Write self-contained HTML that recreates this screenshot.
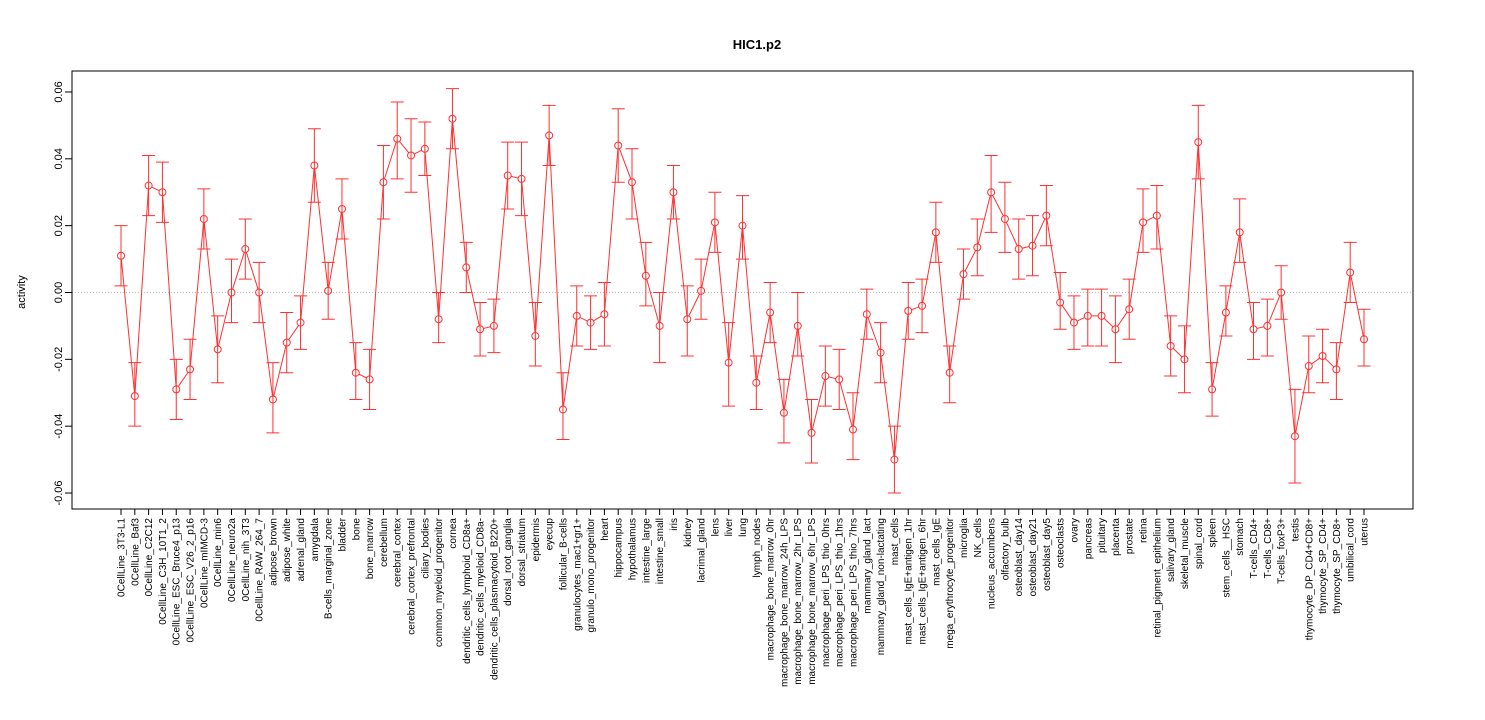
<!DOCTYPE html>
<html><head><meta charset="utf-8"><style>
html,body{margin:0;padding:0;background:#fff;}
svg{display:block;font-family:"Liberation Sans",sans-serif;}
</style></head><body>
<svg id="chart" width="1485" height="720" viewBox="0 0 1485 720">
<text x="757" y="49" text-anchor="middle" font-size="13" font-weight="bold">HIC1.p2</text>
<text transform="translate(25,292) rotate(-90)" text-anchor="middle" font-size="11">activity</text>
<rect x="72" y="71" width="1341" height="438" fill="none" stroke="#000" stroke-width="1"/>
<g id="g"></g>
</svg>
<script>
const categories=["0CellLine_3T3-L1","0CellLine_Baf3","0CellLine_C2C12","0CellLine_C3H_10T1_2","0CellLine_ESC_Bruce4_p13","0CellLine_ESC_V26_2_p16","0CellLine_mIMCD-3","0CellLine_min6","0CellLine_neuro2a","0CellLine_nih_3T3","0CellLine_RAW_264_7","adipose_brown","adipose_white","adrenal_gland","amygdala","B-cells_marginal_zone","bladder","bone","bone_marrow","cerebellum","cerebral_cortex","cerebral_cortex_prefrontal","ciliary_bodies","common_myeloid_progenitor","cornea","dendritic_cells_lymphoid_CD8a+","dendritic_cells_myeloid_CD8a-","dendritic_cells_plasmacytoid_B220+","dorsal_root_ganglia","dorsal_striatum","epidermis","eyecup","follicular_B-cells","granulocytes_mac1+gr1+","granulo_mono_progenitor","heart","hippocampus","hypothalamus","intestine_large","intestine_small","iris","kidney","lacrimal_gland","lens","liver","lung","lymph_nodes","macrophage_bone_marrow_0hr","macrophage_bone_marrow_24h_LPS","macrophage_bone_marrow_2hr_LPS","macrophage_bone_marrow_6hr_LPS","macrophage_peri_LPS_thio_0hrs","macrophage_peri_LPS_thio_1hrs","macrophage_peri_LPS_thio_7hrs","mammary_gland_lact","mammary_gland_non-lactating","mast_cells","mast_cells_IgE+antigen_1hr","mast_cells_IgE+antigen_6hr","mast_cells_IgE","mega_erythrocyte_progenitor","microglia","NK_cells","nucleus_accumbens","olfactory_bulb","osteoblast_day14","osteoblast_day21","osteoblast_day5","osteoclasts","ovary","pancreas","pituitary","placenta","prostate","retina","retinal_pigment_epithelium","salivary_gland","skeletal_muscle","spinal_cord","spleen","stem_cells__HSC","stomach","T-cells_CD4+","T-cells_CD8+","T-cells_foxP3+","testis","thymocyte_DP_CD4+CD8+","thymocyte_SP_CD4+","thymocyte_SP_CD8+","umbilical_cord","uterus"];
const values=[0.011,-0.031,0.032,0.030,-0.029,-0.023,0.022,-0.017,0.000,0.013,0.000,-0.032,-0.015,-0.009,0.038,0.0005,0.025,-0.024,-0.026,0.033,0.046,0.041,0.043,-0.008,0.052,0.0075,-0.011,-0.010,0.035,0.034,-0.013,0.047,-0.035,-0.007,-0.009,-0.0065,0.044,0.033,0.005,-0.010,0.030,-0.008,0.0005,0.021,-0.021,0.020,-0.027,-0.006,-0.036,-0.010,-0.042,-0.025,-0.026,-0.041,-0.0065,-0.018,-0.050,-0.0055,-0.004,0.018,-0.024,0.0055,0.0135,0.030,0.022,0.013,0.014,0.023,-0.003,-0.009,-0.007,-0.007,-0.011,-0.005,0.021,0.023,-0.016,-0.020,0.045,-0.029,-0.006,0.018,-0.011,-0.010,0.000,-0.043,-0.022,-0.019,-0.023,0.006,-0.014];
const upper=[0.020,-0.021,0.041,0.039,-0.020,-0.014,0.031,-0.007,0.010,0.022,0.009,-0.021,-0.006,-0.001,0.049,0.009,0.034,-0.015,-0.017,0.044,0.057,0.052,0.051,0.000,0.061,0.015,-0.003,-0.002,0.045,0.045,-0.003,0.056,-0.024,0.002,-0.001,0.003,0.055,0.043,0.015,0.000,0.038,0.002,0.010,0.030,-0.009,0.029,-0.019,0.003,-0.026,0.000,-0.032,-0.016,-0.017,-0.030,0.001,-0.009,-0.040,0.003,0.004,0.027,-0.016,0.013,0.022,0.041,0.033,0.022,0.023,0.032,0.006,-0.001,0.001,0.001,-0.001,0.004,0.031,0.032,-0.007,-0.010,0.056,-0.021,0.002,0.028,-0.003,-0.002,0.008,-0.029,-0.013,-0.011,-0.015,0.015,-0.005];
const lower=[0.002,-0.040,0.023,0.021,-0.038,-0.032,0.013,-0.027,-0.009,0.004,-0.009,-0.042,-0.024,-0.017,0.027,-0.008,0.016,-0.032,-0.035,0.022,0.034,0.030,0.035,-0.015,0.043,0.000,-0.019,-0.018,0.025,0.023,-0.022,0.038,-0.044,-0.016,-0.017,-0.016,0.033,0.022,-0.004,-0.021,0.022,-0.019,-0.008,0.012,-0.034,0.010,-0.035,-0.015,-0.045,-0.019,-0.051,-0.034,-0.035,-0.050,-0.014,-0.027,-0.060,-0.014,-0.012,0.009,-0.033,-0.002,0.005,0.018,0.012,0.004,0.005,0.014,-0.011,-0.017,-0.016,-0.016,-0.021,-0.014,0.012,0.013,-0.025,-0.030,0.034,-0.037,-0.013,0.009,-0.020,-0.019,-0.008,-0.057,-0.030,-0.027,-0.032,-0.003,-0.022];
const yTicks=[-0.06,-0.04,-0.02,0.00,0.02,0.04,0.06];
const yTickLabels=["-0.06","-0.04","-0.02","0.00","0.02","0.04","0.06"];

const X0=121, DX=(1364-121)/90;
function xs(i){return X0+i*DX;}
function ys(v){return 292.5-v*3342;}
const NS="http://www.w3.org/2000/svg";
const g=document.getElementById('g');
function mk(t,a){const e=document.createElementNS(NS,t);for(const k in a)e.setAttribute(k,a[k]);g.appendChild(e);return e;}
const red="#ff3030";
// zero line
let zl=mk('line',{x1:72,x2:1413,y1:ys(0),y2:ys(0),stroke:"#bbb","stroke-dasharray":"1,2"});


// y axis
let ya=mk('line',{x1:72,x2:72,y1:ys(yTicks[0]),y2:ys(yTicks[yTicks.length-1]),stroke:"#000"});


yTicks.forEach((t,i)=>{
  const y=ys(t);
  let tk=mk('line',{x1:65,x2:72,y1:y,y2:y,stroke:"#000"});
  
  
  let tx=mk('text',{transform:`translate(62,${y}) rotate(-90)`,"text-anchor":"middle","font-size":"11"});
  tx.textContent=yTickLabels[i];
  
  
});
// x axis
let xa=mk('line',{x1:xs(0),x2:xs(categories.length-1),y1:509,y2:509,stroke:"#000"});


categories.forEach((c,i)=>{
  const x=xs(i);
  let tk=mk('line',{x1:x,x2:x,y1:509,y2:515,stroke:"#000"});
  
  
  let tx=mk('text',{transform:`translate(${x+3.5},518) rotate(-90)`,"text-anchor":"end","font-size":"10"});
  tx.textContent=c;
  
  
});
// connecting segments
const R=3.5;
for(let i=0;i<values.length-1;i++){
  const x1=xs(i),y1=ys(values[i]),x2=xs(i+1),y2=ys(values[i+1]);
  const d=Math.hypot(x2-x1,y2-y1);
  if(d<2*R+1)continue;
  const ux=(x2-x1)/d,uy=(y2-y1)/d;
  let s=mk('line',{x1:x1+ux*R,y1:y1+uy*R,x2:x2-ux*R,y2:y2-uy*R,stroke:red,"stroke-width":"1"});
  
  
}
// error bars + points
values.forEach((v,i)=>{
  const x=xs(i),yu=ys(upper[i]),yl=ys(lower[i]);
  let e=mk('path',{d:`M${x},${yu}V${yl}M${x-6.5},${yu}H${x+6.5}M${x-6.5},${yl}H${x+6.5}`,stroke:red,fill:"none","stroke-width":"1"});
  
  
  let p=mk('circle',{cx:x,cy:ys(v),r:R,fill:"none",stroke:red,"stroke-width":"1"});
  
  
});
</script>
</body></html>
